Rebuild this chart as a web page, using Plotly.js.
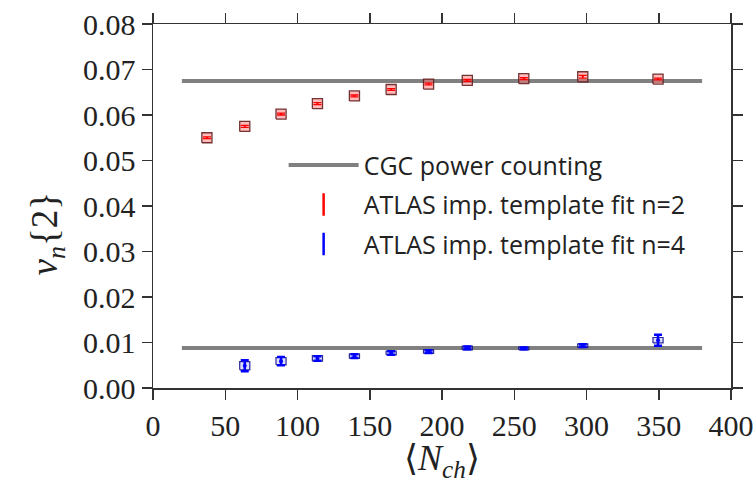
<!DOCTYPE html>
<html><head><meta charset="utf-8">
<script src="https://cdn.plot.ly/plotly-3.0.1.min.js"></script>
<style>html,body{margin:0;padding:0;background:#fff}</style>
</head><body><div id="chart" style="width:755px;height:483px"></div>
<script>
// ---- data ----
const nchN2 = [37.3, 63.5, 88.6, 113.8, 139.4, 164.8, 190.7, 217.5, 256.6, 297.4, 349.5];
const v2N2 = [0.0550, 0.0575, 0.0602, 0.0625, 0.0642, 0.0656, 0.0668, 0.0676, 0.0680, 0.0684, 0.0679];
const statN2 = [0.0002, 0.0002, 0.0002, 0.0002, 0.0002, 0.0002, 0.0002, 0.0002, 0.0002, 0.0003, 0.0002];
const sysN2 = [0.0011, 0.0011, 0.0011, 0.0011, 0.0011, 0.0011, 0.0011, 0.0011, 0.0011, 0.0011, 0.0011];

const nchN4 = [63.5, 88.6, 113.8, 139.4, 164.8, 190.7, 217.5, 256.6, 297.4, 349.5];
const v2N4 = [0.0049, 0.0059, 0.0065, 0.0070, 0.0077, 0.0080, 0.0088, 0.0087, 0.0093, 0.0105];
const statN4 = [0.0012, 0.0009, 0.0005, 0.0004, 0.0004, 0.0003, 0.0003, 0.0002, 0.0003, 0.0012];
const sysN4 = [0.0009, 0.0008, 0.0006, 0.0005, 0.0004, 0.0004, 0.0004, 0.0003, 0.0004, 0.0006];

const cgcX = [20, 380];
const cgcN2 = [0.0675, 0.0675];
const cgcN4 = [0.0088, 0.0088];

const xTicks = [0, 50, 100, 150, 200, 250, 300, 350, 400];
const yTicks = [0.00, 0.01, 0.02, 0.03, 0.04, 0.05, 0.06, 0.07, 0.08];

// ---- helpers ----
const BOX_HALF_W = 3.5; // half-width of systematic boxes in x units
function boxes(xs, ys, hs) {
  const bx = [], by = [];
  xs.forEach((x, i) => {
    const y0 = ys[i] - hs[i], y1 = ys[i] + hs[i];
    bx.push(x - BOX_HALF_W, x + BOX_HALF_W, x + BOX_HALF_W, x - BOX_HALF_W, x - BOX_HALF_W, null);
    by.push(y0, y0, y1, y1, y0, null);
  });
  return {x: bx, y: by};
}
const b2 = boxes(nchN2, v2N2, sysN2);
const b4 = boxes(nchN4, v2N4, sysN4);

const gray = 'rgb(128,128,128)';
const traces = [
  {x: cgcX, y: cgcN2, mode: 'lines', line: {color: gray, width: 4}, name: 'CGC power counting', legendgroup: 'a', showlegend: true},
  {x: cgcX, y: cgcN4, mode: 'lines', line: {color: gray, width: 4}, showlegend: false, legendgroup: 'a'},
  {x: b2.x, y: b2.y, mode: 'lines', fill: 'toself', fillcolor: 'rgba(255,120,120,0.5)', line: {color: 'rgba(90,20,20,0.85)', width: 1.3}, showlegend: false, hoverinfo: 'skip'},
  {x: b4.x, y: b4.y, mode: 'lines', fill: 'toself', fillcolor: 'rgba(160,160,255,0.35)', line: {color: 'rgba(20,20,140,0.9)', width: 1.2}, showlegend: false, hoverinfo: 'skip'},
  {x: nchN2, y: v2N2, mode: 'markers', marker: {color: 'red', size: 2}, error_y: {type: 'data', array: statN2, visible: true, color: 'red', thickness: 1.3, width: 4}, showlegend: false},
  {x: nchN4, y: v2N4, mode: 'markers', marker: {color: 'blue', size: 4}, error_y: {type: 'data', array: statN4, visible: true, color: 'blue', thickness: 2.5, width: 4}, showlegend: false},
  {x: [null], y: [null], mode: 'markers', name: 'ATLAS imp. template fit n=2', legendgroup: 'b', marker: {symbol: 'line-ns', size: 20, color: 'red', line: {color: 'red', width: 2.5}}},
  {x: [null], y: [null], mode: 'markers', name: 'ATLAS imp. template fit n=4', legendgroup: 'c', marker: {symbol: 'line-ns', size: 20, color: 'blue', line: {color: 'blue', width: 2.5}}}
];

const serif = 'Liberation Serif, DejaVu Serif, serif';
const tickFont = {family: serif, size: 30, color: '#222'};
const axisCommon = {
  showgrid: false, zeroline: false, showline: true, linecolor: '#333', linewidth: 1.5,
  mirror: 'allticks', ticks: 'outside', ticklen: 10, tickwidth: 1.5, tickcolor: '#333',
  tickfont: tickFont
};

const layout = {
  width: 755, height: 483,
  margin: {l: 153, r: 24, t: 24, b: 95},
  paper_bgcolor: '#fff', plot_bgcolor: '#fff',
  showlegend: true,
  legend: {
    x: 0.226, y: 0.675, xanchor: 'left', yanchor: 'top',
    bgcolor: 'rgba(0,0,0,0)', borderwidth: 0,
    font: {family: 'Open Sans, Noto Sans, sans-serif', size: 25, color: '#222'},
    traceorder: 'grouped', tracegroupgap: 4, itemwidth: 70
  },
  xaxis: Object.assign({}, axisCommon, {
    range: [0, 400], tickvals: xTicks, ticktext: xTicks.map(v => String(v)),
    title: {text: '⟨<i>N</i><sub><i>ch</i></sub>⟩', font: {family: serif, size: 36, color: '#222'}, standoff: 1}
  }),
  yaxis: Object.assign({}, axisCommon, {
    range: [0, 0.08], tickvals: yTicks, ticktext: yTicks.map(v => v.toFixed(2)),
    title: {text: '<i>v</i><sub><i>n</i></sub>{2}&nbsp;&nbsp;&nbsp;&nbsp;&nbsp;&nbsp;', font: {family: serif, size: 37, color: '#222'}, standoff: 14}
  })
};

Plotly.newPlot('chart', traces, layout, {staticPlot: true, displayModeBar: false});
</script>
</body></html>
